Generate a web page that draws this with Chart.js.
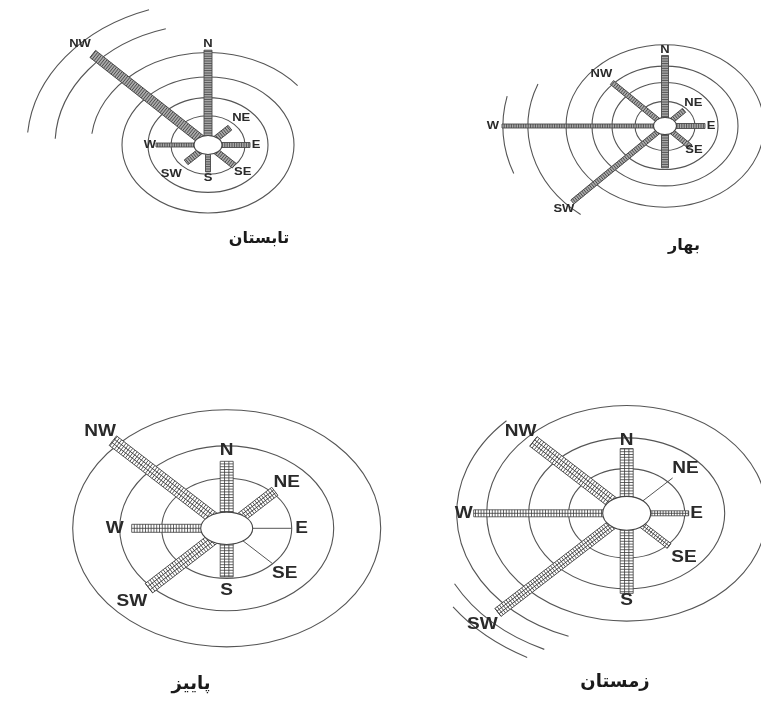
<!DOCTYPE html>
<html>
<head>
<meta charset="utf-8">
<script src="https://cdn.jsdelivr.net/npm/chart.js@4.4.1/dist/chart.umd.min.js"></script>
<style>
  html, body { margin: 0; padding: 0; background: #fff; }
  #wrap { position: relative; width: 761px; height: 706px; overflow: hidden; }
  #wrap canvas { position: absolute; left: 0; top: 0; }
  .cap { position: absolute; font-family: 'DejaVu Sans', sans-serif; font-weight: bold; color: #1a1a1a;
         transform: translate(-50%, -50%); direction: rtl; white-space: nowrap; }
</style>
</head>
<body>
<div id="wrap"></div>
<script>
// wind directions, counter-clockwise angle from east
const directions = ['N', 'NE', 'E', 'SE', 'S', 'SW', 'W', 'NW'];
const directionAngles = [90, 45, 0, -45, -90, -135, 180, 135];

const seasons = ['تابستان', 'بهار', 'پاییز', 'زمستان'];

// bar length per direction (0 = no bar)
const summerValues = [120, 31, 42, 37, 34, 31, 52, 163];
const springValues = [86, 27, 40, 36, 51, 131, 163, 75];
const autumnValues = [87, 68, 0, 0, 63, 110, 95, 161];
const winterValues = [84, 0, 62, 60, 104, 182, 153, 132];

// thin guide lines where there is no bar
const summerSpokes = [0, 0, 0, 0, 0, 0, 0, 0];
const springSpokes = [0, 0, 0, 0, 0, 0, 0, 0];
const autumnSpokes = [0, 0, 65, 65, 0, 0, 0, 0];
const winterSpokes = [0, 65, 0, 0, 0, 0, 0, 0];

// full rings and partial outer rings
const summerRings = [37, 60, 86];
const springRings = [30, 53, 73, 99];
const autumnRings = [65, 107, 154];
const winterRings = [58, 98, 140];

const summerArcs = [{ r: 117, from: 40, to: 173 }, { r: 153, from: 106, to: 177 }, { r: 181, from: 109, to: 175 }];
const springArcs = [{ r: 137, from: 158, to: 232 }, { r: 162, from: 167, to: 201 }];
const autumnArcs = [];
const winterArcs = [{ r: 170, from: 135, to: 250 }, { r: 195, from: 208, to: 245 }, { r: 212, from: 215, to: 242 }];

const W = 761, H = 706;

// layout / style for each rose
const roses = [
  { name: seasons[0], values: summerValues, spokes: summerSpokes, rings: summerRings, arcs: summerArcs,
    cx: 208, cy: 145, ky: 0.79, inner: [14, 12],
    widths: [8, 6, 5, 6, 5, 6, 4, 9], labelR: [127, 47, 48, 49, 42, 52, 58, 181],
    font: 'bold 10px "Liberation Sans"', stretch: 1.3, dark: true, capX: 259, capY: 237, capSize: 16 },
  { name: seasons[1], values: springValues, spokes: springSpokes, rings: springRings, arcs: springArcs,
    cx: 665, cy: 126, ky: 0.82, inner: [11.5, 10.5],
    widths: [7, 5, 5, 5, 7, 5, 4, 5], labelR: [92, 40, 46, 41, 0, 143, 172, 90],
    font: 'bold 10px "Liberation Sans"', stretch: 1.3, dark: true, capX: 684, capY: 244, capSize: 16 },
  { name: seasons[2], values: autumnValues, spokes: autumnSpokes, rings: autumnRings, arcs: autumnArcs,
    cx: 226.7, cy: 528.3, ky: 0.77, inner: [26, 21],
    widths: [13, 10, 0, 0, 13, 12, 8, 12], labelR: [101, 85, 75, 82, 80, 134, 112, 179],
    font: 'bold 17px "Liberation Sans"', stretch: 1.12, dark: false, capX: 191, capY: 682, capSize: 18 },
  { name: seasons[3], values: winterValues, spokes: winterSpokes, rings: winterRings, arcs: winterArcs,
    cx: 626.7, cy: 513.3, ky: 0.77, inner: [24, 22],
    widths: [13, 0, 5, 6, 13, 10, 7, 12], labelR: [95, 83, 70, 81, 113, 204, 163, 150],
    font: 'bold 17px "Liberation Sans"', stretch: 1.12, dark: false, capX: 615, capY: 680, capSize: 18 }
];

const rad = d => d * Math.PI / 180;
const polar = (r, deg) => ({ x: r * Math.cos(rad(deg)), y: r * Math.sin(rad(deg)) });

const rosePlugin = {
  id: 'rose',
  beforeDatasetsDraw(chart) {
    const { ctx, scales: { x, y } } = chart;
    const rose = chart.options.plugins.rose;
    const cx = x.getPixelForValue(0), cy = y.getPixelForValue(0);
    ctx.save();
    ctx.strokeStyle = '#555';
    ctx.lineWidth = 1.1;
    rose.rings.forEach(r => {
      ctx.beginPath();
      ctx.ellipse(cx, cy, x.getPixelForValue(r) - cx, cy - y.getPixelForValue(r), 0, 0, Math.PI * 2);
      ctx.stroke();
    });
    rose.arcs.forEach(a => {
      ctx.beginPath();
      ctx.ellipse(cx, cy, x.getPixelForValue(a.r) - cx, cy - y.getPixelForValue(a.r), 0, -rad(a.to), -rad(a.from));
      ctx.stroke();
    });
    ctx.restore();
  },
  afterDatasetsDraw(chart) {
    const { ctx, scales: { x, y } } = chart;
    const rose = chart.options.plugins.rose;
    ctx.save();
    // hatching on the bars
    chart.data.datasets.forEach((ds, i) => {
      if (!ds.ladder) return;
      const pts = chart.getDatasetMeta(i).data;
      const p0 = pts[0], p1 = pts[1];
      const dx = p1.x - p0.x, dy = p1.y - p0.y;
      const len = Math.hypot(dx, dy), w = ds.borderWidth;
      ctx.save();
      ctx.translate(p0.x, p0.y);
      ctx.rotate(Math.atan2(dy, dx));
      ctx.strokeStyle = rose.dark ? '#4a4a4a' : '#3c3c3c';
      ctx.lineWidth = rose.dark ? 0.9 : 0.8;
      ctx.beginPath();
      const step = rose.dark ? 2.4 : 2.8;
      for (let s = 0; s <= len; s += step) { ctx.moveTo(s, -w / 2); ctx.lineTo(s, w / 2); }
      const cols = rose.dark ? 1 : (w >= 10 ? 3 : 2);
      for (let k = 1; k < cols; k++) {
        const yy = -w / 2 + k * w / cols;
        ctx.moveTo(0, yy); ctx.lineTo(len, yy);
      }
      ctx.moveTo(0, -w / 2); ctx.lineTo(len, -w / 2);
      ctx.moveTo(0, w / 2); ctx.lineTo(len, w / 2);
      ctx.moveTo(len, -w / 2); ctx.lineTo(len, w / 2);
      ctx.stroke();
      ctx.restore();
    });
    // centre ellipse covers the bar roots
    const cx = x.getPixelForValue(0), cy = y.getPixelForValue(0);
    ctx.beginPath();
    ctx.ellipse(cx, cy, x.getPixelForValue(rose.inner[0]) - cx, cy - y.getPixelForValue(rose.inner[1]), 0, 0, Math.PI * 2);
    ctx.fillStyle = '#fff';
    ctx.fill();
    ctx.strokeStyle = '#444';
    ctx.lineWidth = 1.1;
    ctx.stroke();
    // direction labels
    ctx.font = rose.font;
    ctx.fillStyle = '#2a2a2a';
    ctx.textAlign = 'center';
    ctx.textBaseline = 'middle';
    directions.forEach((d, i) => {
      if (!rose.labelR[i]) return;
      const p = polar(rose.labelR[i], directionAngles[i]);
      ctx.save();
      ctx.translate(x.getPixelForValue(p.x), y.getPixelForValue(p.y));
      ctx.scale(rose.stretch, 1);
      ctx.fillText(d, 0, 0);
      ctx.restore();
    });
    ctx.restore();
  }
};

const wrap = document.getElementById('wrap');

roses.forEach(rose => {
  const canvas = document.createElement('canvas');
  canvas.width = W;
  canvas.height = H;
  wrap.appendChild(canvas);

  const datasets = [];
  directions.forEach((d, i) => {
    if (rose.spokes[i] > 0) {
      datasets.push({
        label: d + ' guide',
        data: [{ x: 0, y: 0 }, polar(rose.spokes[i], directionAngles[i])],
        showLine: true, borderColor: '#555', borderWidth: 1, pointRadius: 0
      });
    }
    if (rose.values[i] > 0) {
      datasets.push({
        label: d,
        data: [{ x: 0, y: 0 }, polar(rose.values[i], directionAngles[i])],
        showLine: true, ladder: true,
        borderColor: rose.dark ? '#aaaaaa' : '#ffffff',
        borderWidth: rose.widths[i], borderCapStyle: 'butt', pointRadius: 0
      });
    }
  });

  new Chart(canvas.getContext('2d'), {
    type: 'scatter',
    data: { datasets },
    options: {
      responsive: false,
      animation: false,
      events: [],
      devicePixelRatio: 1,
      layout: { padding: 0 },
      plugins: {
        legend: { display: false },
        tooltip: { enabled: false },
        rose: rose
      },
      scales: {
        x: { type: 'linear', display: false, min: -rose.cx, max: W - rose.cx },
        y: { type: 'linear', display: false, min: -(H - rose.cy) / rose.ky, max: rose.cy / rose.ky }
      }
    },
    plugins: [rosePlugin]
  });

  const cap = document.createElement('div');
  cap.className = 'cap';
  cap.textContent = rose.name;
  cap.style.left = rose.capX + 'px';
  cap.style.top = rose.capY + 'px';
  cap.style.fontSize = rose.capSize + 'px';
  wrap.appendChild(cap);
});
</script>
</body>
</html>
